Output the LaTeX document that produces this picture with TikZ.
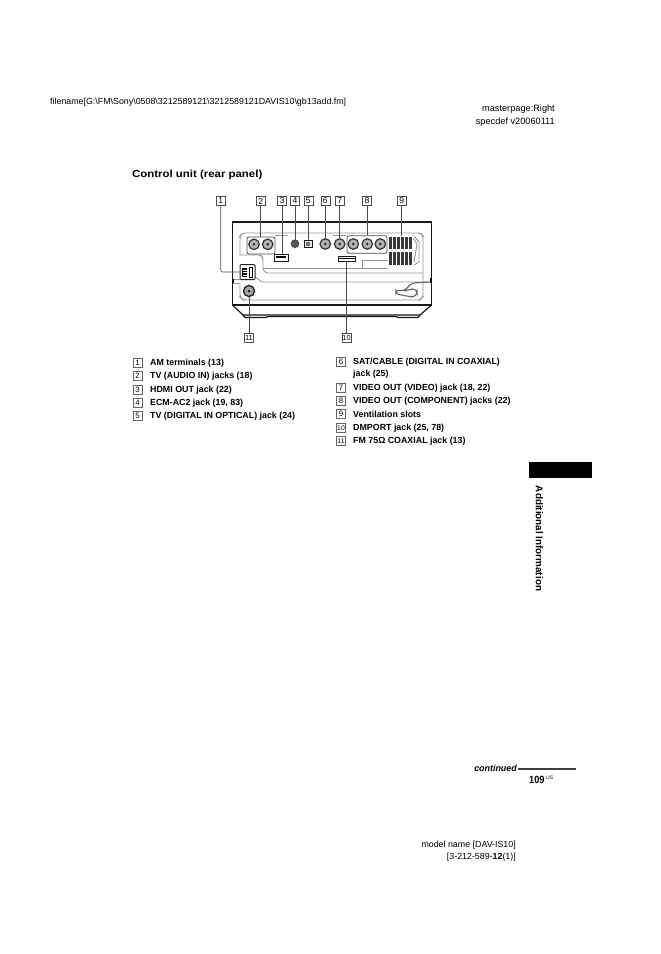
\documentclass[tikz,border=0pt]{standalone}
\usepackage{fontspec}
\setmainfont{Liberation Sans}
\newfontfamily\titlefont[FakeStretch=1.12]{Liberation Sans Bold}
\begin{document}
\begin{tikzpicture}[x=1pt,y=-1pt,
  txt/.style={inner sep=0pt,anchor=west,font=\fontsize{8.85}{9}\selectfont},
  item/.style={inner sep=0pt,anchor=west,font=\fontsize{8.85}{9}\bfseries\selectfont},
  callout/.style={draw=black!70,line width=.5pt,minimum width=9pt,minimum height=9pt,inner sep=0pt,font=\fontsize{8.6}{8}\selectfont},
  lcallout/.style={callout,draw=black!60,line width=.4pt,font=\fontsize{7.8}{8}\selectfont},
  body/.style={line width=1.2pt,draw=black!90},
  panel/.style={line width=.9pt,draw=black!42},
  lead/.style={line width=.6pt,draw=black!70},
  jack/.style={circle,draw=black!80,line width=1.2pt,fill=black!30,minimum size=10.5pt,inner sep=0pt},
  grp/.style={draw=black!70,line width=.8pt,rounded corners=2pt,inner sep=0pt},
  port/.style={draw=black!90,line width=.8pt,inner sep=0pt}]
\useasboundingbox (0,0) rectangle (661,954);
\fill[white] (0,0) rectangle (661,954);

% header
\node[txt] (hf) at (50,102) {filename[G:\textbackslash FM\textbackslash Sony\textbackslash 0508\textbackslash 3212589121\textbackslash 3212589121DAVIS10\textbackslash gb13add.fm]};
\node[txt,anchor=east,font=\fontsize{9.2}{9}\selectfont] (hm) at (555,109) {masterpage:Right};
\node[txt,anchor=east,font=\fontsize{9.2}{9}\selectfont] (hs) at (555,122) {specdef v20060111};
\node[inner sep=0pt,anchor=west,font=\titlefont\fontsize{10.2}{11}\selectfont] (title) at (132,175) {Control unit (rear panel)};

% device body
\draw[body] (232.5,305) -- (232.5,222) -- (431.5,222) -- (431.5,305) -- cycle;
\draw[body] (232.5,305) -- (243,315) -- (420,315) -- (431.5,305);
\draw[body] (243,315) -- (245,317.5) -- (266,317.5) -- (268,316.5) -- (396,316.5) -- (398,317.5) -- (418,317.5) -- (420,315);
% panel outline
\draw[panel,rounded corners=3pt] (240,256) -- (240,236) -- (242,233) -- (421,233) -- (423,236) -- (423,297) -- (420,300) -- (243,300) -- (240,297) -- (240,284);
\draw[panel,rounded corners=2pt] (240,255) -- (261,255) -- (263,258) -- (263,269) -- (265,273) -- (423,273);
\draw[panel] (263,268) -- (388,268);
\draw[panel] (362,268) -- (362,260) -- (388,260);
\draw[panel] (275,235.5) -- (288,235.5);
\draw[panel] (333,235) -- (346,235);
\draw[panel] (255,277) -- (262,282) -- (428,282);
\draw[panel] (233,283) -- (240,283);
\draw[panel] (233,279) -- (240,279);
\fill[black] (232,279) rectangle (234,283);
\fill[black] (429.5,278) rectangle (431.5,283);
% cable hook
\draw[panel,draw=black!60,line width=1.1pt,rounded corners=3pt] (430,282) -- (412,283) -- (404,291) -- (396,290) -- (396,294) -- (412,297) -- (417,295) -- (417,290) -- (412,289) -- (404,291);

% jack groups
\node[grp,minimum width=28pt,minimum height=17pt] (g2) at (261,245.5) {};
\node[jack] (j2a) at (254,244.3) {};
\node[jack] (j2b) at (267.7,244.3) {};
\node[port,fill=white,minimum width=14pt,minimum height=6.5pt] (hdmi) at (281,257.7) {};
\fill[black] (276,256.2) rectangle (286,258.2);
\node[circle,fill=black!65,draw=black!85,minimum size=8pt,inner sep=0pt] (mic) at (295,243.7) {};
\node[port,fill=black!10,minimum width=7.5pt,minimum height=7.5pt] (opt) at (308.3,243.7) {};
\fill[black!55] (306.3,241.7) rectangle (310.3,245.7);
\node[jack] (j6) at (325.3,244) {};
\node[jack] (j7) at (339.7,244) {};
\node[grp,minimum width=40pt,minimum height=17.6pt] (g8) at (367,244.5) {};
\node[jack] (j8a) at (353.3,244) {};
\node[jack] (j8b) at (367.3,244) {};
\node[jack] (j8c) at (380.3,244) {};
\node[port,fill=white,minimum width=17pt,minimum height=4.5pt] (dm) at (346.5,259) {};
\fill[black] (338.5,257.6) rectangle (354.5,259.2);

% ventilation slots
\node[inner sep=0pt,minimum width=24pt,minimum height=29pt,draw=none] (vent) at (401,250.5) {};
\foreach \sx in {390.5,394.5,398.5,402.5,406.5,410.5}{
  \draw[line width=2.4pt,black!78] (\sx,236.5) -- (\sx,249);
  \draw[line width=2.4pt,black!78] (\sx,252) -- (\sx,264.5);
}
\draw[panel] (413,238) -- (417,244) -- (414,262);
\draw[panel] (414,236) -- (419,242) -- (419,262) -- (414,265);

% AM and FM
\node[draw=black!85,line width=1pt,fill=white,rounded corners=1pt,minimum width=15pt,minimum height=15pt,inner sep=0pt] (am) at (247.5,272) {};
\fill[black] (242,267.5) rectangle (247,277);
\draw[white,line width=.5pt] (243,270) -- (247,270) (243,272.5) -- (247,272.5) (243,275) -- (247,275);
\draw[black,line width=1pt] (249.5,267.5) rectangle (252,277);
\node[circle,draw=black!85,line width=1.4pt,fill=black!35,minimum size=11pt,inner sep=0pt] (fm) at (249,291) {};
\node[circle,fill=black,minimum size=2.5pt,inner sep=0pt] at (fm) {};
\foreach \j in {j2a,j2b,j6,j7,j8a,j8b,j8c}{\node[circle,fill=black!85,minimum size=2.8pt,inner sep=0pt] at (\j) {};}

% callouts
\node[callout] (c1) at (220.7,201) {1};
\node[callout] (c2) at (260.7,201) {2};
\node[callout] (c3) at (282,201) {3};
\node[callout] (c4) at (295,201) {4};
\node[callout] (c5) at (308.3,201) {5};
\node[callout] (c6) at (325.3,201) {6};
\node[callout] (c7) at (339.7,201) {7};
\node[callout] (c8) at (367,201) {8};
\node[callout] (c9) at (401.7,201) {9};
\node[callout,font=\fontsize{7.4}{7}\selectfont] (c10) at (346.5,338) {10};
\node[callout,font=\fontsize{7.4}{7}\selectfont] (c11) at (249,338) {11};

% leaders
\draw[lead,rounded corners=2pt] (c1.south) |- (am.west);
\draw[lead] (c2.south) -- (c2.south |- g2.north);
\draw[lead] (c3.south) -- (c3.south |- hdmi.north);
\draw[lead] (c4.south) -- (c4.south |- mic.north);
\draw[lead] (c5.south) -- (c5.south |- opt.north);
\draw[lead] (c6.south) -- (j6.north);
\draw[lead] (c7.south) -- (j7.north);
\draw[lead] (c8.south) -- (c8.south |- g8.north);
\draw[lead] (c9.south) -- (c9.south |- vent.north);
\draw[lead] (c10.north) -- (dm.south);
\draw[lead] (c11.north) -- (fm.south);

% legend left
\node[lcallout] (l1) at (137.5,363) {1};
\node[lcallout] (l2) at (137.5,376) {2};
\node[lcallout] (l3) at (137.5,390) {3};
\node[lcallout] (l4) at (137.5,403) {4};
\node[lcallout] (l5) at (137.5,416) {5};
\node[item] (t1) at (150,363) {AM terminals (13)};
\node[item] (t2) at (150,376) {TV (AUDIO IN) jacks (18)};
\node[item] (t3) at (150,390) {HDMI OUT jack (22)};
\node[item] (t4) at (150,403) {ECM-AC2 jack (19, 83)};
\node[item] (t5) at (150,416) {TV (DIGITAL IN OPTICAL) jack (24)};
% legend right
\node[lcallout] (l6) at (341,362) {6};
\node[lcallout] (l7) at (341,388) {7};
\node[lcallout] (l8) at (341,401) {8};
\node[lcallout] (l9) at (341,414) {9};
\node[lcallout,font=\fontsize{6.8}{7}\selectfont] (l10) at (341,428) {10};
\node[lcallout,font=\fontsize{6.8}{7}\selectfont] (l11) at (341,441) {11};
\node[item] (t6) at (353,362) {SAT/CABLE (DIGITAL IN COAXIAL)};
\node[item] (t6b) at (353,374.5) {jack (25)};
\node[item] (t7) at (353,388) {VIDEO OUT (VIDEO) jack (18, 22)};
\node[item] (t8) at (353,401) {VIDEO OUT (COMPONENT) jacks (22)};
\node[item] (t9) at (353,414) {Ventilation slots};
\node[item] (t10) at (353,428) {DMPORT jack (25, 78)};
\node[item] (t11) at (353,441) {FM 75Ω COAXIAL jack (13)};

% tab
\fill[black] (529,462) rectangle (592,478);
\node[inner sep=0pt,rotate=-90,anchor=center,font=\fontsize{9.85}{10}\bfseries\selectfont] (tab) at (539.5,538.5) {Additional Information};

% footer
\node[inner sep=0pt,anchor=east,font=\fontsize{8.9}{9}\bfseries\itshape\selectfont] (cont) at (517,768) {continued};
\draw[line width=1.1pt,black!75] (cont.east) ++(1,1) -- (576,769);
\node[inner sep=0pt,anchor=west,xscale=.88,font=\fontsize{10.5}{11}\bfseries\selectfont] (pg) at (529,780) {109};
\node[inner sep=0pt,anchor=west,font=\fontsize{5}{6}\itshape\selectfont] (us) at (546,778) {US};
\node[txt,anchor=east] (mn) at (516,845) {model name [DAV-IS10]};
\node[txt,anchor=east] (mr) at (516,857) {[3-212-589-\textbf{12}(1)]};
\end{tikzpicture}
\end{document}
